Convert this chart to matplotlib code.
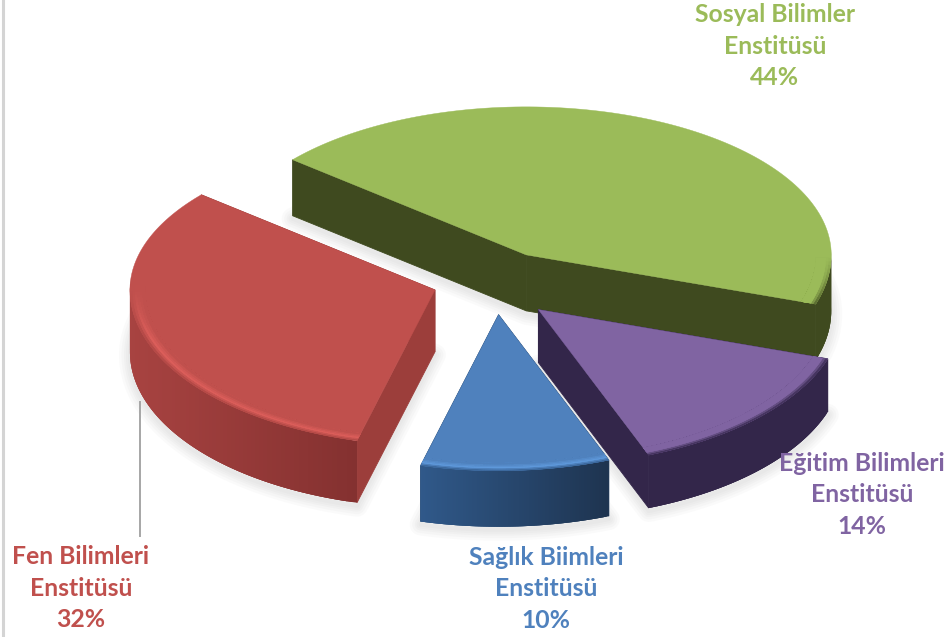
import matplotlib
matplotlib.use("Agg")
import matplotlib.pyplot as plt
import numpy as np
from matplotlib.collections import PolyCollection
from matplotlib.colors import to_rgb
from matplotlib.patches import Polygon

names = ["Sosyal Bilimler\nEnstitüsü", "Eğitim Bilimleri\nEnstitüsü", "Sağlık Biimleri\nEnstitüsü", "Fen Bilimleri\nEnstitüsü"]
shares = [44, 14, 10, 32]
top_colors = ["#9BBB59", "#8064A2", "#4F81BD", "#C0504D"]
glow_colors = ["#9BBB59", "#8064A2", "#5E98DA", "#DB5E5A"]
wall_left = ["#3F4A1F", "#33264A", "#30598A", "#A84341"]
wall_right = ["#3F4A1F", "#33264A", "#1E3450", "#843130"]
cut_colors = ["#3F4A1F", "#33264A", "#264468", "#9C3E3B"]
depths = [56, 53, 56, 62]
nudge_x = [0, -3, 0, 1]
nudge_y = [-3, 2, -3, -5]
label_pos = [(775, 46), (862, 495), (546, 589), (81, 588)]

START = 140
CENTER = (495, 285)
RX, RY_BACK, RY_FRONT = 305, 148, 156
EXPLODE = 0.21


def mix(c1, c2, t):
    return tuple((1 - t) * a + t * b for a, b in zip(to_rgb(c1), to_rgb(c2)))


def point(apex, deg, r=1.0):
    rad = np.radians(deg)
    ry = RY_BACK if np.sin(rad) > 0 else RY_FRONT
    return apex[0] + r * RX * np.cos(rad), apex[1] - r * ry * np.sin(rad)


def slice_apex(i, a1, a2):
    x, y = point(CENTER, (a1 + a2) / 2, EXPLODE)
    return x + nudge_x[i], y + nudge_y[i]


def draw_slice(ax, i, a1, a2):
    depth = depths[i]
    apex = slice_apex(i, a1, a2)
    angles = np.linspace(a1, a2, 120)
    arc = np.array([point(apex, a) for a in angles])
    drop = np.array([0, depth])
    z = 3 + i * 0.1

    # cut faces, the hidden ones end up under the top face and the rim
    for end in (arc[0], arc[-1]):
        quad = [apex, end, end + drop, np.array(apex) + drop]
        ax.add_patch(Polygon(quad, color=cut_colors[i], lw=0.6, zorder=z))

    # outer wall, only the part turned to the viewer
    # each quad runs on under the next one so no seams show
    quads, cols = [], []
    for k in range(len(angles) - 1):
        if np.sin(np.radians(angles[k])) > 0.03:
            continue
        stop = min(k + 3, len(angles) - 1)
        strip = arc[k:stop + 1]
        quads.append(np.vstack([strip, strip[::-1] + drop]))
        x_share = (arc[k][0] - arc[:, 0].min()) / np.ptp(arc[:, 0])
        cols.append(mix(wall_left[i], wall_right[i], x_share))
    ax.add_collection(PolyCollection(quads, facecolors=cols, edgecolors="none", zorder=z))

    outline = np.vstack([[apex], arc])
    ax.add_patch(Polygon(outline, color=top_colors[i], lw=0.3, zorder=z))

    # rounded edge between the top and the wall, outermost ring first
    radii = np.linspace(1.0, 0.95, 7)
    quads, cols = [], []
    for j in range(len(radii) - 1):
        t = 1 - j / (len(radii) - 2)
        for k in range(len(angles) - 1):
            weight = np.clip(-np.sin(np.radians(angles[k])) * 3, 0, 1)
            if weight <= 0:
                continue
            stop = min(k + 3, len(angles) - 1)
            outer = [point(apex, a, radii[j]) for a in angles[k:stop + 1]]
            inner = [point(apex, a, radii[-1]) for a in angles[k:stop + 1]]
            if t < 0.6:
                c = mix(top_colors[i], glow_colors[i], t / 0.6)
            else:
                c = mix(glow_colors[i], wall_left[i], (t - 0.6) / 0.4 * 0.75)
            quads.append(outer + inner[::-1])
            cols.append(mix(top_colors[i], c, weight))
    if quads:
        ax.add_collection(PolyCollection(quads, facecolors=cols, edgecolors="none", zorder=z))


def draw_shadow(ax, i, a1, a2):
    apex = slice_apex(i, a1, a2)
    arc = [point(apex, a) for a in np.linspace(a1, a2, 120)]
    low = np.array([apex] + arc) + np.array([0, depths[i] + 3])
    for width in [22, 17, 12, 8, 4]:
        ax.add_patch(Polygon(low, closed=True, facecolor="none", edgecolor="#808080", alpha=0.035,
                             lw=width * 0.72, joinstyle="round", zorder=1))


def plot():
    fig = plt.figure(figsize=(9.47, 6.37), dpi=100)
    ax = fig.add_axes([0, 0, 1, 1])
    ax.set_xlim(0, 947)
    ax.set_ylim(637, 0)
    ax.axis("off")

    ax.axvline(3, color="#D4D4D4", lw=2.2, zorder=0)

    edges = START - np.cumsum([0] + shares) * 3.6
    for i in range(len(shares)):
        draw_shadow(ax, i, edges[i], edges[i + 1])
    for i in range(len(shares)):
        draw_slice(ax, i, edges[i], edges[i + 1])

    ax.plot([140, 140], [402, 536], color="#A6A6A6", lw=1.4, zorder=2.5)

    for name, share, color, (x, y) in zip(names, shares, top_colors, label_pos):
        ax.text(x, y, f"{name}\n{share}%", color=color, ha="center", va="center",
                fontsize=17.8, fontweight="bold", family="Lato", linespacing=1.44, zorder=10)
    return fig


def main():
    fig = plot()
    fig.savefig("out.png", dpi=100)


if __name__ == "__main__":
    main()
